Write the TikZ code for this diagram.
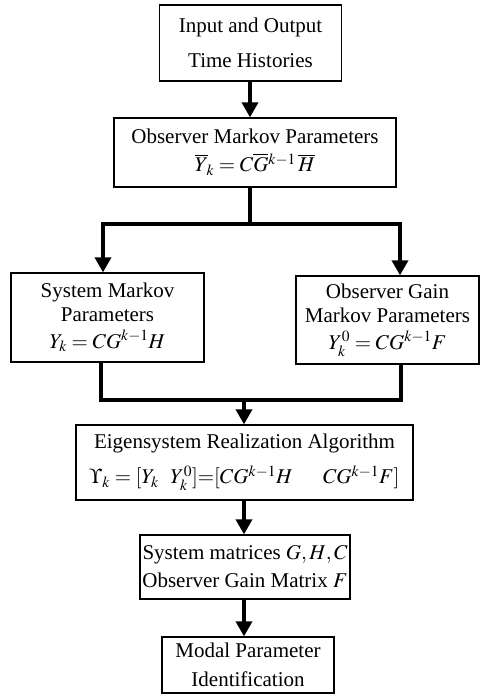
\documentclass[tikz,border=0pt]{standalone}
\usepackage{mathptmx}
\usepackage{fontspec}
\setmainfont{Liberation Serif}
\usetikzlibrary{arrows.meta}

\begin{document}
\begin{tikzpicture}[x=1pt,y=-1pt,
  box/.style={draw, line width=1.3pt, inner sep=0pt, align=center,
    font=\fontsize{21}{#1}\selectfont},
  box/.default=27,
  flow/.style={line width=3.6pt},
  arr/.style={flow, -{Triangle[width=16pt,length=15pt]}}]
\useasboundingbox (0,0) rectangle (482,696);

% process boxes
\node[box=27, minimum width=182, minimum height=76] (b1) at (250.5,43)
  {Input and Output\\[8pt]Time Histories};
\node[box=25, minimum width=282, minimum height=69] (b2) at (255,152.5)
  {Observer Markov Parameters\\[3pt]$\overline{Y}_{\!k}=C\overline{G}{}^{k-1}\,\overline{H}$};
\node[box=24, minimum width=193, minimum height=89] (b3) at (107.5,317.5)
  {System Markov\\Parameters\\[3pt]$Y_k=CG^{k-1}H$};
\node[box=24, minimum width=183, minimum height=88] (b4) at (387.5,320)
  {Observer Gain\\Markov Parameters\\[3pt]$Y_k^0=CG^{k-1}F$};
\node[box=31, minimum width=337, minimum height=75] (era) at (244.5,462.5)
  {Eigensystem Realization Algorithm\\[4pt]$\Upsilon_k=[Y_k\;\;\, Y_k^0]{=}[CG^{k-1}H\quad\;\; CG^{k-1}F]$};
\node[box=28, minimum width=210, minimum height=64] (b5) at (245,567)
  {System matrices $G,H,C$\\Observer Gain Matrix $F$};
\node[box=29, minimum width=172, minimum height=56] (b6) at (248,665)
  {Modal Parameter\\Identification};

% junction points of the branching and merging connectors
\coordinate (j1) at (250,224);
\coordinate (lx) at (103,0);
\coordinate (rx) at (400,0);
\coordinate (j2) at (244,400);
\coordinate (lx2) at (101,0);
\coordinate (rx2) at (401,0);

% connectors
\draw[arr] (b1.south -| j1) -- (b2.north -| j1);
\draw[flow] (b2.south -| j1) -- (j1);
\draw[arr] (j1) -| (b3.north -| lx);
\draw[arr] (j1) -| (b4.north -| rx);
\draw[flow] (b3.south -| lx2) |- (j2) -| (b4.south -| rx2);
\draw[arr] (j2) -- (era.north -| j2);
\draw[arr] (era.south -| j2) -- (b5.north -| j2);
\draw[arr] (b5.south -| j2) -- (b6.north -| j2);
\end{tikzpicture}
\end{document}
